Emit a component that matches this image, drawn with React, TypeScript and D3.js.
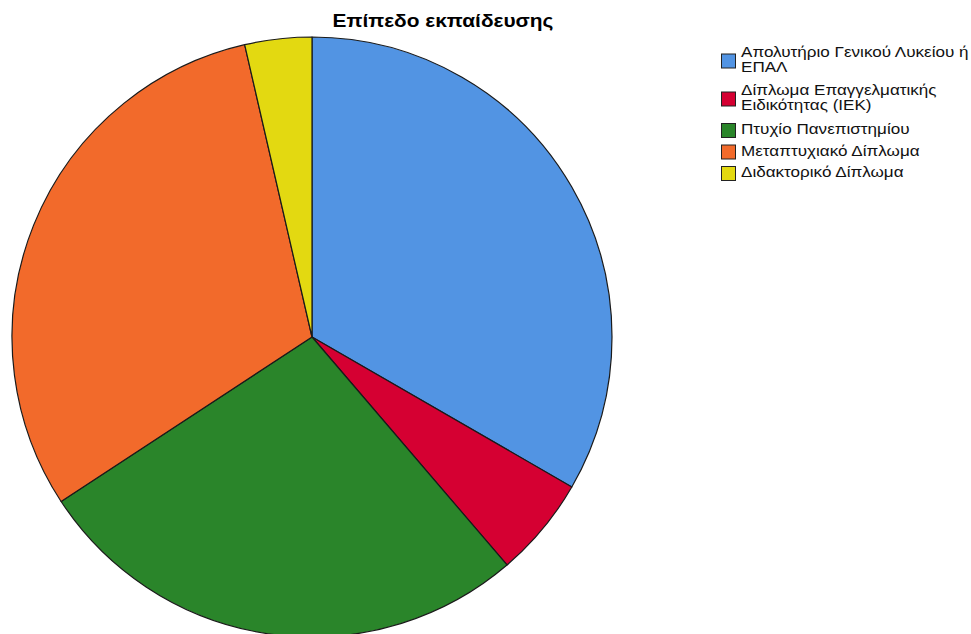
import React from "react";
import * as d3 from "d3";

const title = "Επίπεδο εκπαίδευσης";
const categories = [
  "Απολυτήριο Γενικού Λυκείου ή\nΕΠΑΛ",
  "Δίπλωμα Επαγγελματικής\nΕιδικότητας (ΙΕΚ)",
  "Πτυχίο Πανεπιστημίου",
  "Μεταπτυχιακό Δίπλωμα",
  "Διδακτορικό Δίπλωμα",
];
const counts = [37, 6, 30, 34, 4];
const colors = ["#5294E3", "#D50032", "#2A852A", "#F26A2B", "#E3D911"];

const W = 971;
const H = 634;
const cx = 312;
const cy = 337;
const R = 300;

export default function App() {
  const data = categories.map((c, i) => ({ label: c, value: counts[i], color: colors[i] }));
  const pie = d3
    .pie<{ label: string; value: number; color: string }>()
    .sort(null)
    .value((d) => d.value)
    .startAngle(0)
    .endAngle(2 * Math.PI);
  const arcs = pie(data);
  const arc = d3
    .arc<d3.PieArcDatum<{ label: string; value: number; color: string }>>()
    .innerRadius(0)
    .outerRadius(R);

  // legend layout
  const legendX = 721;
  const swatch = 14;
  const lineH = 15;
  let y = 57;
  const legendItems = data.map((d, i) => {
    const lines = d.label.split("\n");
    const baseY = y;
    const blockTop = baseY - 10;
    const blockH = (lines.length - 1) * lineH + 10;
    const sy = blockTop + blockH / 2 - swatch / 2 + 1;
    y += (lines.length - 1) * lineH + (lines.length > 1 ? (i === 0 ? 23 : 24) : 21.5);
    return { ...d, lines, baseY, sy };
  });

  return (
    <svg
      width={W}
      height={H}
      style={{ position: "absolute", left: 0, top: 0, background: "#fff" }}
      fontFamily="'Liberation Sans', Arial, sans-serif"
    >
      <rect x={0} y={0} width={W} height={H} fill="#fff" />
      <g transform={`translate(${cx},${cy})`}>
        {arcs.map((a, i) => (
          <path key={i} d={arc(a) || ""} fill={a.data.color} stroke="#1a1a1a" strokeWidth={1.2} strokeLinejoin="round" />
        ))}
      </g>
      <g transform="translate(443,27) scale(1.16,1)">
        <text x={0} y={0} textAnchor="middle" fontSize={18} fontWeight="bold" fill="#000">
          {title}
        </text>
      </g>
      {legendItems.map((it, i) => (
        <g key={i}>
          <rect x={legendX + 0.5} y={it.sy + 0.5} width={swatch} height={swatch} fill={it.color} stroke="#222" strokeWidth={1} />
          {it.lines.map((ln, j) => (
            <g key={j} transform={`translate(741,${it.baseY + j * lineH}) scale(1.22,1)`}>
              <text x={0} y={0} fontSize={14} fill="#111">
                {ln}
              </text>
            </g>
          ))}
        </g>
      ))}
    </svg>
  );
}
